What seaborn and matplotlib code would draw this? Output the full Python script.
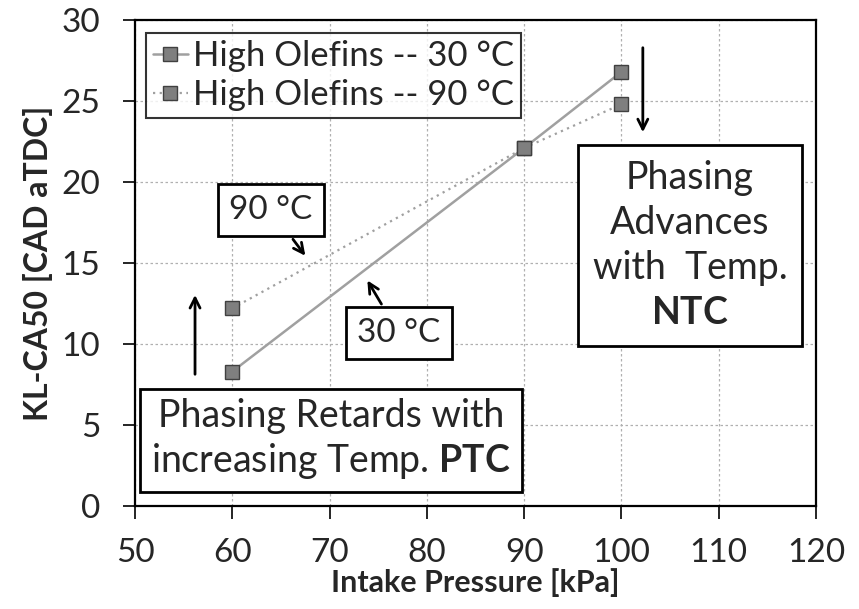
import matplotlib
matplotlib.use("Agg")
import matplotlib.pyplot as plt
import seaborn as sns
import pandas as pd

pressure = [60, 90, 100]
ca50_30C = [8.3, 22.1, 26.8]
ca50_90C = [12.2, 22.1, 24.8]
series_names = ["High Olefins -- 30 °C", "High Olefins -- 90 °C"]
x_ticks = [50, 60, 70, 80, 90, 100, 110, 120]
y_ticks = [0, 5, 10, 15, 20, 25, 30]

sns.set_theme(style="white")
plt.rcParams['font.family'] = ['Lato', 'DejaVu Sans']
plt.rcParams['mathtext.fontset'] = 'custom'
plt.rcParams['mathtext.rm'] = 'Lato'
plt.rcParams['mathtext.bf'] = 'Lato:bold'

fig = plt.figure(figsize=(8.59, 6.09), dpi=100)
ax = fig.add_axes([135/859, 1-506/609, (816-135)/859, (506-20)/609])

df30 = pd.DataFrame({"x": pressure, "y": ca50_30C})
df90 = pd.DataFrame({"x": pressure, "y": ca50_90C})
sns.lineplot(data=df30, x="x", y="y", ax=ax, color="#a0a0a0", lw=1.8,
             marker="s", markersize=10.5, markerfacecolor="#7f7f7f",
             markeredgecolor="#404040", markeredgewidth=1.0,
             label=series_names[0])
sns.lineplot(data=df90, x="x", y="y", ax=ax, color="#a0a0a0", lw=1.6,
             linestyle=(0, (1, 2)),
             marker="s", markersize=10.5, markerfacecolor="#7f7f7f",
             markeredgecolor="#404040", markeredgewidth=1.0,
             label=series_names[1])

ax.set_xlim(50, 120)
ax.set_ylim(0, 30)
ax.set_xticks(x_ticks)
ax.set_yticks(y_ticks)
ax.tick_params(axis="both", labelsize=24, length=9, width=1.2, direction="out",
               color="black", bottom=True, left=True)
ax.tick_params(axis="x", pad=14)
ax.tick_params(axis="y", pad=16)
ax.grid(True, color="#b0b0b0", linestyle=(0, (2, 2)), lw=0.9)
for s in ax.spines.values():
    s.set_color("black")
    s.set_linewidth(1.6)
ax.set_xlabel("Intake Pressure [kPa]", fontsize=22, fontweight="bold", labelpad=0)
ax.set_ylabel("KL-CA50 [CAD aTDC]", fontsize=23, fontweight="bold", labelpad=6)

leg = ax.legend(loc="upper left", bbox_to_anchor=(0.016, 0.973), fontsize=25,
                frameon=True, fancybox=False, edgecolor="black",
                handlelength=1.0, handletextpad=0.15, borderpad=0.2,
                labelspacing=0.2, borderaxespad=0)
leg.get_frame().set_linewidth(1.5)

box = dict(boxstyle="square,pad=0.33", fc="white", ec="black", lw=2)
arrowp = dict(arrowstyle="->", color="black", lw=2, mutation_scale=18)

ax.annotate("90 °C", xy=(67.68, 15.31), xytext=(63.98, 18.27), fontsize=24,
            ha="center", va="center", bbox=box, arrowprops=arrowp)
ax.annotate("30 °C", xy=(73.74, 14.07), xytext=(77.13, 10.65), fontsize=24,
            ha="center", va="center", bbox=box, arrowprops=arrowp)
ax.text(70.15, 4.10, "Phasing Retards with\nincreasing Temp. $\\mathbf{PTC}$",
        fontsize=27, ha="center", va="center", linespacing=1.2,
        bbox=dict(boxstyle="square,pad=0.3", fc="white", ec="black", lw=2))
ax.text(107.05, 16.08, "Phasing\nAdvances\nwith  Temp.\n$\\mathbf{NTC}$",
        fontsize=27, ha="center", va="center", linespacing=1.3,
        bbox=dict(boxstyle="square,pad=0.4", fc="white", ec="black", lw=2))
ax.annotate("", xy=(56.17, 13.2), xytext=(56.17, 7.96), arrowprops=arrowp)
ax.annotate("", xy=(102.2, 22.9), xytext=(102.2, 28.46), arrowprops=arrowp)

fig.savefig("out.png", dpi=100)
